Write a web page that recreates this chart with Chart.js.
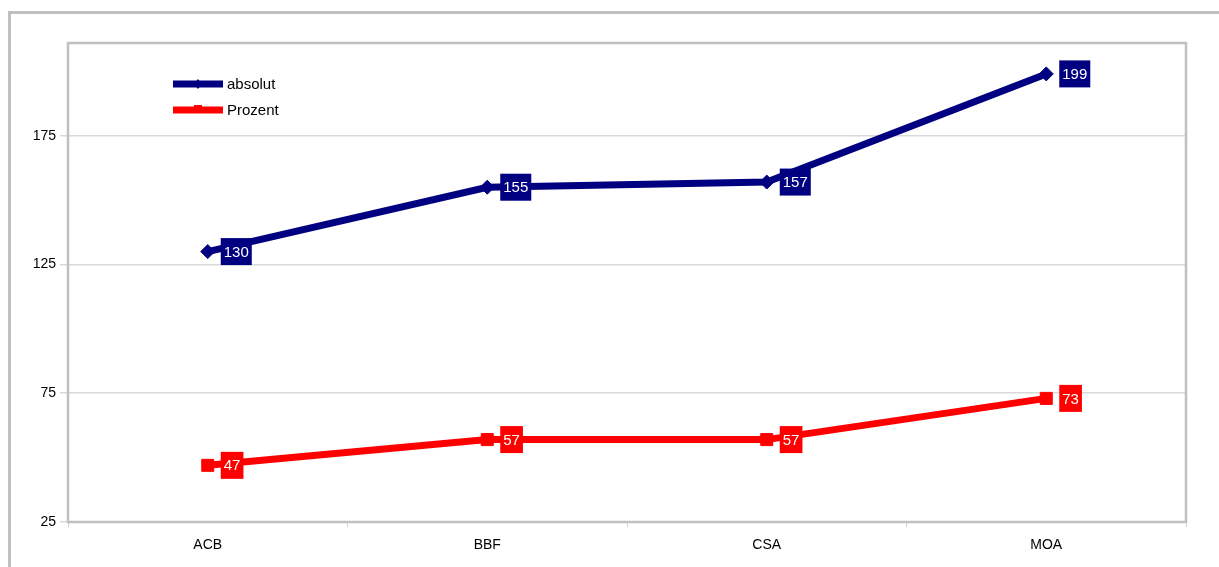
<!DOCTYPE html>
<html>
<head>
<meta charset="utf-8">
<title>absolut / Prozent</title>
<script src="https://cdn.jsdelivr.net/npm/chart.js@4/dist/chart.umd.min.js"></script>
<style>
  html, body { margin: 0; padding: 0; background: #fff; }
  #wrap { width: 1219px; height: 567px; position: relative; }
</style>
</head>
<body>
<div id="wrap"><canvas id="lineChart"></canvas></div>
<script>
const categories = ["ACB", "BBF", "CSA", "MOA"];
const absolutValues = [130, 155, 157, 199];
const prozentValues = [47, 57, 57, 73];
const yTicks = [25, 75, 125, 175];

const FONT = "'Liberation Sans', Arial, sans-serif";
const NAVY = "#000080";
const RED = "#ff0000";
const FRAME = "#c0c0c0";

// outer frame of the chart object (left and top edges only are visible)
const framePlugin = {
  id: "frame",
  beforeDraw(chart) {
    const c = chart.ctx;
    c.save();
    c.fillStyle = "#fff";
    c.fillRect(0, 0, chart.width, chart.height);
    c.strokeStyle = FRAME;
    c.lineWidth = 3;
    c.beginPath();
    c.moveTo(9.5, chart.height);
    c.lineTo(9.5, 12.5);
    c.lineTo(chart.width, 12.5);
    c.stroke();
    c.restore();
  },
  afterDraw(chart) {
    const a = chart.chartArea;
    const c = chart.ctx;
    c.save();
    c.strokeStyle = FRAME;
    c.lineWidth = 2.5;
    c.strokeRect(a.left, a.top, a.right - a.left, a.bottom - a.top);
    c.restore();
  }
};

// value boxes to the right of each point
const valueBoxPlugin = {
  id: "valueBoxes",
  afterDatasetsDraw(chart) {
    const c = chart.ctx;
    c.save();
    c.font = "15px " + FONT;
    c.textBaseline = "middle";
    chart.data.datasets.forEach((ds, i) => {
      const meta = chart.getDatasetMeta(i);
      meta.data.forEach((pt, j) => {
        const txt = String(ds.data[j]);
        const w = c.measureText(txt).width + 6;
        const h = 27;
        const x = pt.x + 13;
        c.fillStyle = ds.borderColor;
        c.fillRect(x, pt.y - h / 2, w, h);
        c.fillStyle = "#fff";
        c.textAlign = "left";
        c.fillText(txt, x + 3, pt.y + 1);
      });
    });
    c.restore();
  }
};

// legend inside the plot area, top left
const legendPlugin = {
  id: "insideLegend",
  afterDraw(chart) {
    const c = chart.ctx;
    c.save();
    c.font = "15px " + FONT;
    c.textBaseline = "middle";
    chart.data.datasets.forEach((ds, i) => {
      const y = 84 + i * 26;
      c.strokeStyle = ds.borderColor;
      c.lineWidth = 7;
      c.beginPath();
      c.moveTo(173, y);
      c.lineTo(223, y);
      c.stroke();
      c.fillStyle = ds.borderColor;
      c.beginPath();
      if (ds.pointStyle === "rectRot") {
        c.moveTo(198, y - 5);
        c.lineTo(202, y);
        c.lineTo(198, y + 5);
        c.lineTo(194, y);
      } else {
        c.rect(194, y - 5, 8, 8);
      }
      c.fill();
      c.fillStyle = "#000";
      c.fillText(ds.label, 227, y + 1);
    });
    c.restore();
  }
};

new Chart(document.getElementById("lineChart"), {
  type: "line",
  data: {
    labels: categories,
    datasets: [
      {
        label: "absolut",
        data: absolutValues,
        borderColor: NAVY,
        backgroundColor: NAVY,
        borderWidth: 7,
        pointStyle: "rectRot",
        pointRadius: 7,
        pointBorderWidth: 1,
        tension: 0
      },
      {
        label: "Prozent",
        data: prozentValues,
        borderColor: RED,
        backgroundColor: RED,
        borderWidth: 7,
        pointStyle: "rect",
        pointRadius: 8.5,
        pointBorderWidth: 1,
        tension: 0
      }
    ]
  },
  options: {
    responsive: true,
    maintainAspectRatio: false,
    animation: false,
    layout: { padding: { left: 0, top: 43, right: 33, bottom: 0 } },
    plugins: {
      legend: { display: false },
      tooltip: { enabled: false }
    },
    scales: {
      x: {
        offset: true,
        grid: {
          offset: true,
          drawOnChartArea: false,
          drawTicks: true,
          tickLength: 5,
          color: "#d0d0d0",
          lineWidth: 1
        },
        border: { display: false },
        ticks: {
          color: "#000",
          font: { family: FONT, size: 14 },
          padding: 10
        },
        afterFit(s) { s.height = 45; }
      },
      y: {
        min: 25,
        max: 211,
        afterBuildTicks(s) { s.ticks = yTicks.map(v => ({ value: v })); },
        grid: {
          color: "#d9d9d9",
          lineWidth: 1.5,
          drawTicks: true,
          tickLength: 8
        },
        border: { display: false },
        ticks: {
          color: "#000",
          font: { family: FONT, size: 14 },
          padding: 4
        },
        afterFit(s) { s.width = 68; }
      }
    }
  },
  plugins: [framePlugin, valueBoxPlugin, legendPlugin]
});
</script>
</body>
</html>
